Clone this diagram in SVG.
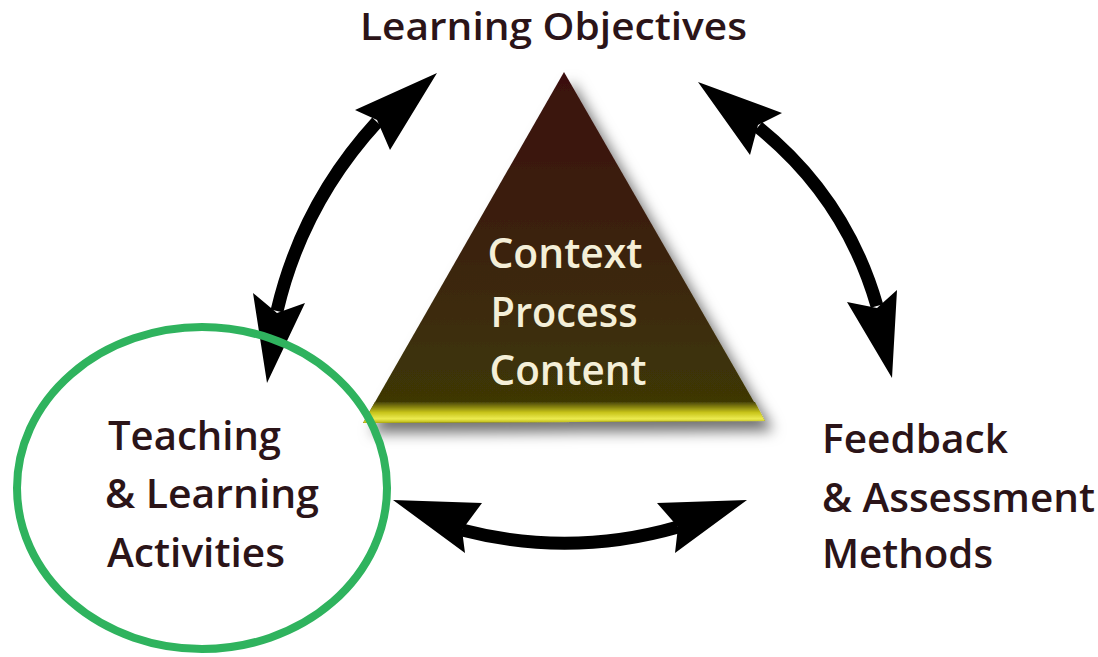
<svg xmlns="http://www.w3.org/2000/svg" width="1098" height="657" viewBox="0 0 1098 657">
<defs>
<style>
.lbl{font-family:"Open Sans","Liberation Sans",sans-serif;font-weight:600;font-size:39px;fill:#2b1418}
.tri{font-family:"Open Sans","Liberation Sans",sans-serif;font-weight:600;font-size:42px;fill:#f4efd8;text-anchor:middle}
.shaft{fill:none;stroke:#000;stroke-width:13}
.head{fill:#000}
</style>
<linearGradient id="triFill" x1="0" y1="72" x2="0" y2="422" gradientUnits="userSpaceOnUse">
<stop offset="0" stop-color="#3a1010"/>
<stop offset="0.45" stop-color="#3a200c"/>
<stop offset="1" stop-color="#3f3a05"/>
</linearGradient>
<linearGradient id="baseFill" x1="0" y1="402" x2="0" y2="423" gradientUnits="userSpaceOnUse">
<stop offset="0" stop-color="#4a4606"/>
<stop offset="0.5" stop-color="#c8c41a"/>
<stop offset="0.8" stop-color="#eceb50"/>
<stop offset="1" stop-color="#b8b410"/>
</linearGradient>
<filter id="shadow" x="-20%" y="-20%" width="140%" height="140%">
<feGaussianBlur in="SourceAlpha" stdDeviation="7"/>
<feOffset dx="8" dy="10" result="b"/>
<feFlood flood-color="#000" flood-opacity="0.55"/>
<feComposite in2="b" operator="in"/>
<feMerge><feMergeNode/><feMergeNode in="SourceGraphic"/></feMerge>
</filter>
</defs>
<rect width="1098" height="657" fill="#fff"/>

<g id="triangle">
<g filter="url(#shadow)">
<polygon points="564,72 363,423 765,421" fill="url(#triFill)"/>
<polygon points="375,402 755,402 765,421 363,423" fill="url(#baseFill)"/>
</g>
<text class="tri" x="565" y="268" textLength="155" lengthAdjust="spacingAndGlyphs">Context</text>
<text class="tri" x="564" y="327" textLength="147" lengthAdjust="spacingAndGlyphs">Process</text>
<text class="tri" x="568" y="385" textLength="157" lengthAdjust="spacingAndGlyphs">Content</text>
</g>

<g id="connectors">
<path class="shaft" d="M377,122 Q302,204 277,311"/>
<polygon class="head" points="437,73 390,150 377,120 355,110"/>
<polygon class="head" points="267,383 253,293 277,313 305,303"/>
<path class="shaft" d="M758,127 Q846,198 877,306"/>
<polygon class="head" points="698,82 782,113 758,125 750,155"/>
<polygon class="head" points="892,378 847,302 877,308 897,290"/>
<path class="shaft" d="M462,530 Q570,558 678,527"/>
<polygon class="head" points="393,500 482,503 462,530 465,553"/>
<polygon class="head" points="747,500 657,503 678,527 675,553"/>
</g>

<g id="learning-objectives">
<text class="lbl" x="360" y="40" style="font-size:37px" textLength="387" lengthAdjust="spacingAndGlyphs">Learning Objectives</text>
</g>

<g id="teaching-learning-activities">
<text class="lbl" x="108" y="450" textLength="173" lengthAdjust="spacingAndGlyphs">Teaching</text>
<text class="lbl" x="105" y="508" textLength="214" lengthAdjust="spacingAndGlyphs">&amp; Learning</text>
<text class="lbl" x="107" y="567" textLength="178" lengthAdjust="spacingAndGlyphs">Activities</text>
</g>

<g id="feedback-assessment-methods">
<text class="lbl" x="822" y="453" textLength="186" lengthAdjust="spacingAndGlyphs">Feedback</text>
<text class="lbl" x="822" y="512" textLength="273" lengthAdjust="spacingAndGlyphs">&amp; Assessment</text>
<text class="lbl" x="822" y="568" textLength="171" lengthAdjust="spacingAndGlyphs">Methods</text>
</g>

<g id="highlight">
<ellipse cx="202" cy="488" rx="185" ry="161" fill="none" stroke="#2fb35e" stroke-width="8"/>
</g>
</svg>
